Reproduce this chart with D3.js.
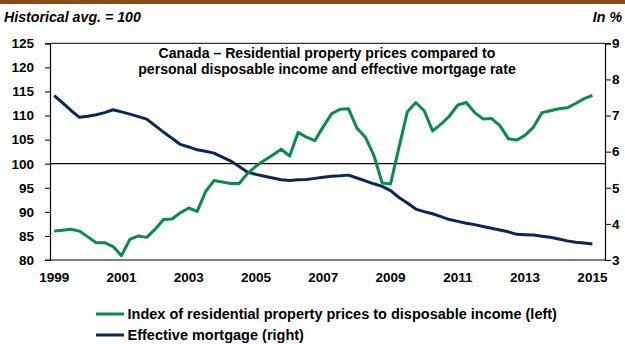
<!DOCTYPE html>
<html>
<head>
<meta charset="utf-8">
<script src="https://cdn.jsdelivr.net/npm/d3@7"></script>
<style>
  html, body { margin: 0; padding: 0; background: #fff; }
  svg { display: block; font-family: "Liberation Sans", Arial, sans-serif; }
</style>
</head>
<body>
<svg id="chart" width="625" height="344"></svg>
<script>
// Quarterly categories, 1999Q1 – 2015Q2 (last quarter left empty)
const years = [1999, 2000, 2001, 2002, 2003, 2004, 2005, 2006, 2007,
               2008, 2009, 2010, 2011, 2012, 2013, 2014, 2015];
const quarters = years.flatMap(y => ["Q1", "Q2", "Q3", "Q4"].map(q => y + q)).slice(0, 66);

// Index of residential property prices to disposable income (historical avg. = 100)
const priceIndex = [
  86.0, 86.2, 86.4, 86.0, 84.8, 83.6, 83.6, 82.8, 80.9, 84.3,
  85.0, 84.7, 86.4, 88.4, 88.5, 89.8, 90.8, 90.1, 94.2, 96.5,
  96.2, 95.9, 95.9, 98.0, 99.5, 100.7, 101.8, 103.0, 101.6, 106.5,
  105.5, 104.8, 107.7, 110.4, 111.3, 111.4, 107.4, 105.5, 101.8, 96.0,
  95.8, 103.4, 110.8, 112.7, 111.0, 106.8, 108.2, 109.9, 112.2, 112.7,
  110.6, 109.3, 109.4, 107.9, 105.2, 104.9, 105.9, 107.6, 110.6, 111.0,
  111.4, 111.6, 112.5, 113.5, 114.2
];

// Effective mortgage rate, %
const mortgageRate = [
  7.55, 7.35, 7.14, 6.95, 6.98, 7.02, 7.08, 7.16, 7.10, 7.04,
  6.97, 6.90, 6.72, 6.54, 6.37, 6.20, 6.13, 6.05, 6.01, 5.96,
  5.85, 5.74, 5.59, 5.43, 5.37, 5.32, 5.27, 5.22, 5.20, 5.22,
  5.23, 5.26, 5.29, 5.32, 5.33, 5.35, 5.27, 5.19, 5.11, 5.04,
  4.92, 4.73, 4.58, 4.41, 4.34, 4.28, 4.20, 4.12, 4.07, 4.02,
  3.98, 3.93, 3.88, 3.83, 3.78, 3.71, 3.70, 3.69, 3.66, 3.63,
  3.58, 3.53, 3.49, 3.47, 3.44
];

const leftTicks = [80, 85, 90, 95, 100, 105, 110, 115, 120, 125];
const rightTicks = [3, 4, 5, 6, 7, 8, 9];
const yearLabels = ["1999", "2001", "2003", "2005", "2007", "2009", "2011", "2013", "2015"];

const seriesNames = [
  "Index of residential property prices to disposable income (left)",
  "Effective mortgage (right)"
];
const GREEN = "#0b8a4c";
const NAVY = "#0b2755";

const svg = d3.select("#chart");
const plot = { left: 50, right: 605, top: 43.3, bottom: 260 };

const x = d3.scaleBand().domain(quarters).range([plot.left, plot.right]);
const xc = q => x(q) + x.bandwidth() / 2;
const yL = d3.scaleLinear().domain([80, 125]).range([plot.bottom, plot.top]);
const yR = d3.scaleLinear().domain([3, 9]).range([plot.bottom, plot.top]);

// Brown header rule
svg.append("rect").attr("x", 0).attr("y", 0).attr("width", 625).attr("height", 4)
  .attr("fill", "#8b4a12");

// Header captions
svg.append("text").attr("x", 4).attr("y", 22)
  .attr("font-size", 14.2).attr("font-weight", "bold").attr("font-style", "italic")
  .text("Historical avg. = 100");
svg.append("text").attr("x", 622).attr("y", 22).attr("text-anchor", "end")
  .attr("font-size", 14.2).attr("font-weight", "bold").attr("font-style", "italic")
  .text("In %");

// Plot frame top line
svg.append("line").attr("x1", plot.left).attr("x2", plot.right)
  .attr("y1", plot.top).attr("y2", plot.top).attr("stroke", "#000").attr("stroke-width", 1);

// Left axis
const gL = svg.append("g").attr("transform", `translate(${plot.left},0)`)
  .call(d3.axisLeft(yL).tickValues(leftTicks).tickSize(5).tickPadding(11)
    .tickFormat(d3.format("d")));
// Right axis
const gR = svg.append("g").attr("transform", `translate(${plot.right},0)`)
  .call(d3.axisRight(yR).tickValues(rightTicks).tickSize(6).tickPadding(1)
    .tickFormat(d3.format("d")));
// Bottom axis
const xTicks = yearLabels.map(y => y + "Q1");
const gB = svg.append("g").attr("transform", `translate(0,${plot.bottom})`)
  .call(d3.axisBottom(x).tickValues(xTicks).tickSize(0).tickPadding(12)
    .tickFormat(q => q.slice(0, 4)));

[gL, gR, gB].forEach(g => {
  g.select(".domain").attr("stroke", "#000").attr("stroke-width", 1.2);
  g.selectAll(".tick line").attr("stroke", "#000");
  g.selectAll("text").attr("font-size", 13.5).attr("font-weight", "bold")
    .attr("fill", "#000").attr("font-family", "Liberation Sans, Arial, sans-serif");
});
gB.select(".domain").attr("d", `M${plot.left - 5},0H${plot.right}`);

// Reference line at the historical average
svg.append("line").attr("x1", plot.left).attr("x2", plot.right)
  .attr("y1", yL(100)).attr("y2", yL(100)).attr("stroke", "#000").attr("stroke-width", 1.2);

// Title
const title = svg.append("text").attr("text-anchor", "middle")
  .attr("font-size", 14.1).attr("font-weight", "bold");
title.append("tspan").attr("x", 327).attr("y", 58)
  .text("Canada \u2013 Residential property prices compared to");
title.append("tspan").attr("x", 327).attr("y", 74)
  .text("personal disposable income and effective mortgage rate");

// Series lines
const lineL = d3.line().x((d, i) => xc(quarters[i])).y(d => yL(d));
const lineR = d3.line().x((d, i) => xc(quarters[i])).y(d => yR(d));
svg.append("path").datum(mortgageRate).attr("d", lineR)
  .attr("fill", "none").attr("stroke", NAVY).attr("stroke-width", 3)
  .attr("stroke-linejoin", "round");
svg.append("path").datum(priceIndex).attr("d", lineL)
  .attr("fill", "none").attr("stroke", GREEN).attr("stroke-width", 3)
  .attr("stroke-linejoin", "round");

// Legend
const legend = svg.append("g");
[GREEN, NAVY].forEach((c, i) => {
  const yy = 314 + i * 21;
  legend.append("line").attr("x1", 96).attr("x2", 124).attr("y1", yy).attr("y2", yy)
    .attr("stroke", c).attr("stroke-width", 3);
  legend.append("text").attr("x", 127.5).attr("y", yy + 5)
    .attr("font-size", 14.5).attr("font-weight", "bold").text(seriesNames[i]);
});
</script>
</body>
</html>
